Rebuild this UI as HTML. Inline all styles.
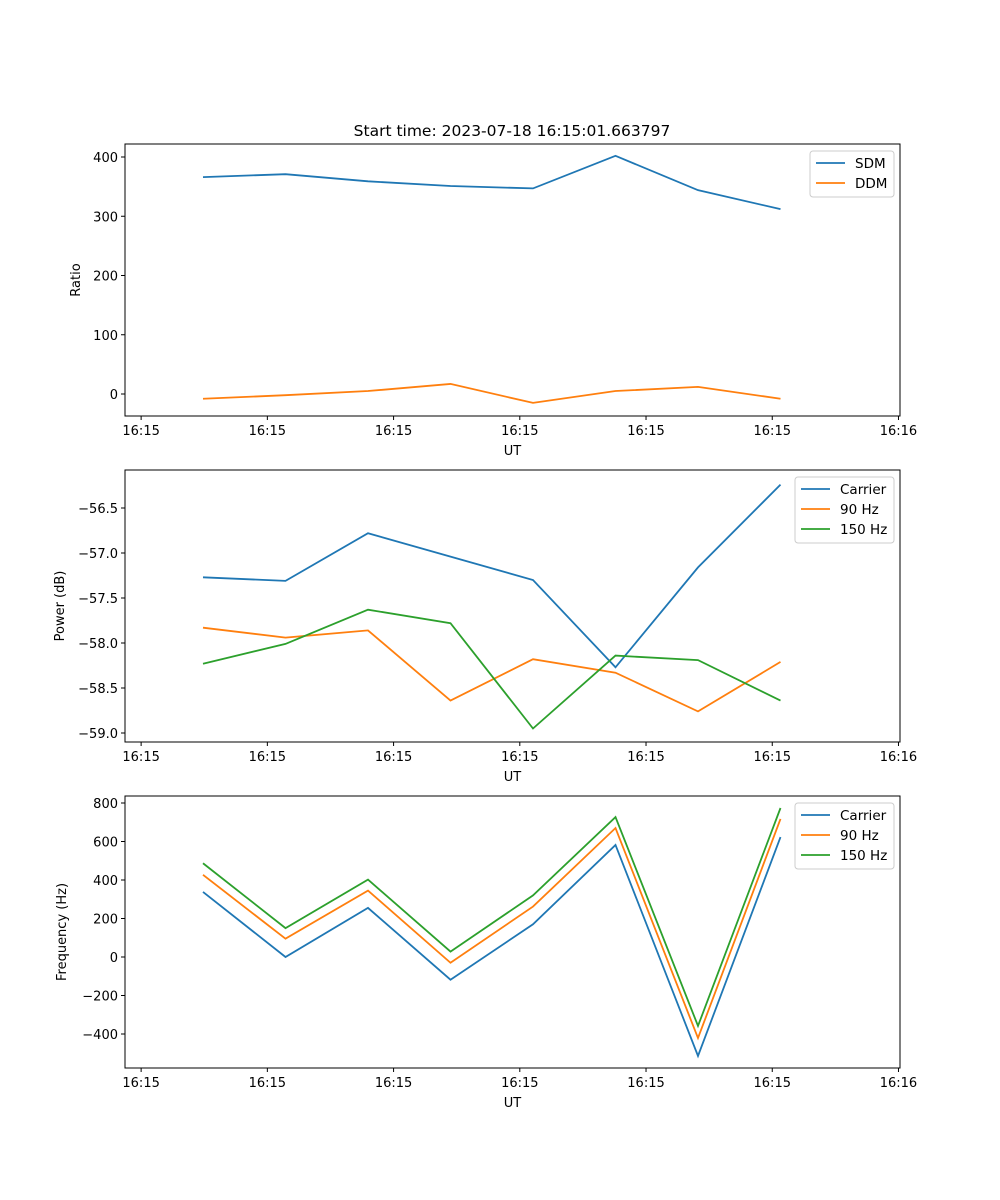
<!DOCTYPE html>
<html><head><meta charset="utf-8"><style>
body{margin:0;background:#fff;}
svg{display:block;font-family:"DejaVu Sans","Liberation Sans",sans-serif;}
</style></head><body>
<svg id="fig" width="1000" height="1200"></svg>
<script>
const xIdx=[0,1,2,3,4,5,6,7];
const xTickVals=[-0.75,0.78,2.31,3.84,5.37,6.90,8.43];
const xTickLabels=["16:15","16:15","16:15","16:15","16:15","16:15","16:16"];
const sdm=[366,371,359,351,347,402,344,312];
const ddm=[-8,-2,5,17,-15,5,12,-8];
const pwrCarrier=[-57.27,-57.31,-56.78,-57.04,-57.30,-58.27,-57.16,-56.24];
const pwr90=[-57.83,-57.94,-57.86,-58.64,-58.18,-58.33,-58.76,-58.21];
const pwr150=[-58.23,-58.01,-57.63,-57.78,-58.95,-58.14,-58.19,-58.64];
const frqCarrier=[338,0,255,-118,170,582,-514,623];
const frq90=[427,95,345,-30,262,670,-421,717];
const frq150=[487,150,402,28,320,727,-358,774];
const yTicks1=[0,100,200,300,400];
const yTicks2=[-59.0,-58.5,-58.0,-57.5,-57.0,-56.5];
const yTicks3=[-400,-200,0,200,400,600,800];
const C=["#1f77b4","#ff7f0e","#2ca02c"];
const NS="http://www.w3.org/2000/svg";
const svg=document.getElementById('fig');
function mk(tag,attrs,parent){const e=document.createElementNS(NS,tag);for(const k in attrs)e.setAttribute(k,attrs[k]);(parent||svg).appendChild(e);return e;}
const L=125,R=900;
function xs(v){return 203+(v-0)*82.5;}
function panel(name,top,bot,y0v,y0p,y1v,y1p,yticks,fmt,ylabel,series,legend){
  const g=mk('g',{});
  
  
  const ys=v=>y0p+(v-y0v)*(y1p-y0p)/(y1v-y0v);
  series.forEach((s,i)=>{
    const p=mk('polyline',{points:s.vals.map((v,j)=>xs(xIdx[j])+','+ys(v)).join(' '),fill:'none',stroke:C[i],'stroke-width':1.8},g);
    
    
  });
  const fr=mk('rect',{x:L,y:top,width:R-L,height:bot-top,fill:'none',stroke:'#000','stroke-width':1},g);
  
  
  xTickVals.forEach((v,i)=>{
    const x=xs(v);
    mk('line',{x1:x,x2:x,y1:bot,y2:bot+4,stroke:'#000'},g);
    const t=mk('text',{x:x,y:bot+19,'font-size':13,'text-anchor':'middle'},g);t.textContent=xTickLabels[i];
    
    
  });
  yticks.forEach(v=>{
    const y=ys(v);
    mk('line',{x1:L-4,x2:L,y1:y,y2:y,stroke:'#000'},g);
    const t=mk('text',{x:L-7,y:y+5,'font-size':13,'text-anchor':'end'},g);t.textContent=fmt(v);
    
    
  });
  const xl=mk('text',{x:(L+R)/2,y:bot+39,'font-size':13,'text-anchor':'middle'},g);xl.textContent='UT';
  
  
  const yl=mk('text',{x:0,y:0,'font-size':13,'text-anchor':'middle',transform:`translate(${ylabel.x},${(top+bot)/2}) rotate(-90)`},g);yl.textContent=ylabel.t;
  
  
  const lw=legend.w,lh=6+series.length*20;
  const lg=mk('g',{},g);
  
  
  mk('rect',{x:R-6-lw,y:top+7,width:lw,height:lh,rx:3,fill:'#fff',stroke:'#ccc','fill-opacity':0.8},lg);
  series.forEach((s,i)=>{
    const yy=top+19+i*20;
    mk('line',{x1:R-lw+0,x2:R-lw+29,y1:yy,y2:yy,stroke:C[i],'stroke-width':1.8},lg);
    const t=mk('text',{x:R-lw+39,y:yy+5,'font-size':13.5},lg);t.textContent=s.label;
    
    
  });
}
const title=mk('text',{x:512,y:136,'font-size':15.5,'text-anchor':'middle'});
title.textContent='Start time: 2023-07-18 16:15:01.663797';


panel('ratio-panel',144,416,0,394,400,157,yTicks1,v=>String(v),{x:80,t:'Ratio'},
 [{vals:sdm,name:'sdm',label:'SDM'},{vals:ddm,name:'ddm',label:'DDM'}],{w:84});
panel('power-panel',470,742,-59.0,733,-56.5,508,yTicks2,v=>'\u2212'+Math.abs(v).toFixed(1),{x:64,t:'Power (dB)'},
 [{vals:pwrCarrier,name:'power-carrier',label:'Carrier'},{vals:pwr90,name:'power-90hz',label:'90 Hz'},{vals:pwr150,name:'power-150hz',label:'150 Hz'}],{w:99});
panel('frequency-panel',796,1068,0,957,800,803,yTicks3,v=>v<0?'\u2212'+Math.abs(v):String(v),{x:66,t:'Frequency (Hz)'},
 [{vals:frqCarrier,name:'freq-carrier',label:'Carrier'},{vals:frq90,name:'freq-90hz',label:'90 Hz'},{vals:frq150,name:'freq-150hz',label:'150 Hz'}],{w:99});
</script>
</body></html>
